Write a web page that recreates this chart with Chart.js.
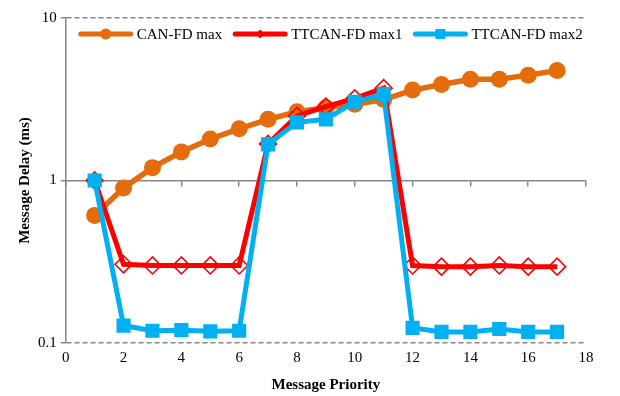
<!DOCTYPE html>
<html>
<head>
<meta charset="utf-8">
<script src="https://cdn.jsdelivr.net/npm/chart.js@4.4.1/dist/chart.umd.min.js"></script>
<style>
  html, body { margin: 0; padding: 0; background: #fff; }
</style>
</head>
<body>
<canvas id="myChart" width="620" height="396"></canvas>
<script>
var priorities = [1, 2, 3, 4, 5, 6, 7, 8, 9, 10, 11, 12, 13, 14, 15, 16, 17];
var canfdMax  = [0.61, 0.9, 1.2, 1.5, 1.8, 2.08, 2.38, 2.65, 2.8, 2.95, 3.15, 3.6, 3.9, 4.2, 4.2, 4.45, 4.75];
var ttcanMax1 = [1.0, 0.305, 0.3, 0.3, 0.3, 0.3, 1.68, 2.5, 2.85, 3.2, 3.7, 0.3, 0.295, 0.295, 0.3, 0.295, 0.295];
var ttcanMax2 = [1.0, 0.128, 0.119, 0.12, 0.118, 0.119, 1.67, 2.28, 2.38, 3.05, 3.4, 0.124, 0.117, 0.117, 0.122, 0.117, 0.117];
var xTicks = [0, 2, 4, 6, 8, 10, 12, 14, 16, 18];
var yTicks = [0.1, 1, 10];

var axisGray = '#868686';
var serif = '"Liberation Serif", "Times New Roman", serif';

function pts(arr) {
    return arr.map(function (v, i) { return { x: priorities[i], y: v }; });
}

// legend drawn inside the plot: line sample + marker + text
var insideLegend = {
    id: 'insideLegend',
    afterDraw: function (chart) {
        var ctx = chart.ctx;
        var y = chart.chartArea.top + 16;
        var x = chart.chartArea.left + 15;
        ctx.save();
        ctx.font = '15px ' + serif;
        ctx.textBaseline = 'middle';
        ctx.textAlign = 'left';
        chart.data.datasets.forEach(function (ds) {
            ctx.strokeStyle = ds.borderColor;
            ctx.lineWidth = 5;
            ctx.lineCap = 'round';
            ctx.beginPath();
            ctx.moveTo(x, y);
            ctx.lineTo(x + 50, y);
            ctx.stroke();
            var cx = x + 25;
            ctx.fillStyle = ds.borderColor;
            ctx.beginPath();
            if (ds.pointStyle === 'circle') {
                ctx.arc(cx, y, 5.5, 0, Math.PI * 2);
            } else if (ds.pointStyle === 'rectRot') {
                ctx.moveTo(cx, y - 4.5); ctx.lineTo(cx + 4.5, y);
                ctx.lineTo(cx, y + 4.5); ctx.lineTo(cx - 4.5, y);
                ctx.closePath();
            } else {
                ctx.rect(cx - 5, y - 5, 10, 10);
            }
            ctx.fill();
            ctx.fillStyle = '#000';
            ctx.fillText(ds.label, x + 56, y + 1);
            x += 56 + ctx.measureText(ds.label).width + 13;
        });
        ctx.restore();
    }
};

var ctx = document.getElementById('myChart').getContext('2d');
var chart = new Chart(ctx, {
    type: 'line',
    data: {
        datasets: [{
            label: 'CAN-FD max',
            data: pts(canfdMax),
            borderColor: '#E46C0A',
            backgroundColor: '#E46C0A',
            borderWidth: 5.5,
            pointStyle: 'circle',
            pointRadius: 8.5,
            pointBorderWidth: 0,
            order: 3
        }, {
            label: 'TTCAN-FD max1',
            data: pts(ttcanMax1),
            borderColor: '#FF0000',
            backgroundColor: 'rgba(255,255,255,0)',
            pointBackgroundColor: 'rgba(255,255,255,0)',
            borderWidth: 5,
            pointStyle: 'rectRot',
            pointRadius: 8.5,
            pointBorderWidth: 1.6,
            order: 2
        }, {
            label: 'TTCAN-FD max2',
            data: pts(ttcanMax2),
            borderColor: '#00B0F0',
            backgroundColor: '#00B0F0',
            borderWidth: 5,
            pointStyle: 'rect',
            pointRadius: 10,
            pointBorderWidth: 0,
            order: 1
        }]
    },
    options: {
        responsive: false,
        animation: false,
        layout: { padding: { left: 16, right: 34, top: 18, bottom: 2 } },
        plugins: {
            legend: { display: false },
            tooltip: { enabled: false }
        },
        elements: { line: { tension: 0 } },
        scales: {
            x: {
                type: 'linear',
                min: 0,
                max: 18,
                afterBuildTicks: function (scale) {
                    scale.ticks = xTicks.map(function (v) { return { value: v }; });
                },
                grid: { display: false },
                border: { display: false },
                ticks: {
                    color: '#000',
                    font: { family: serif, size: 15 },
                    padding: -2,
                    maxRotation: 0
                },
                title: {
                    display: true,
                    text: 'Message Priority',
                    color: '#000',
                    font: { family: serif, size: 15, weight: 'bold' },
                    padding: { top: 11, bottom: 0 }
                }
            },
            x2: {
                type: 'linear',
                position: { y: 1 },
                min: 0,
                max: 18,
                afterBuildTicks: function (scale) {
                    scale.ticks = xTicks.map(function (v) { return { value: v }; });
                },
                ticks: { display: false },
                grid: {
                    drawOnChartArea: false,
                    drawTicks: true,
                    tickLength: 5,
                    color: axisGray,
                    tickColor: axisGray,
                    lineWidth: 1.5
                },
                border: { color: axisGray, width: 1.5 }
            },
            y: {
                type: 'logarithmic',
                min: 0.1,
                max: 10,
                afterBuildTicks: function (scale) {
                    scale.ticks = yTicks.map(function (v) { return { value: v }; });
                },
                ticks: {
                    color: '#000',
                    font: { family: serif, size: 15 },
                    padding: 4,
                    callback: function (v) { return String(v); }
                },
                grid: {
                    color: function (c) { return c.tick && c.tick.value === 1 ? 'rgba(0,0,0,0)' : axisGray; },
                    tickColor: axisGray,
                    tickLength: 5,
                    lineWidth: 1.5
                },
                border: {
                    color: axisGray,
                    width: 1.5,
                    dash: function (c) { return c.tick ? [5, 3] : []; }
                },
                title: {
                    display: true,
                    text: 'Message Delay (ms)',
                    color: '#000',
                    font: { family: serif, size: 15, weight: 'bold' },
                    padding: { top: 0, bottom: 0 }
                }
            }
        }
    },
    plugins: [insideLegend]
});
</script>
</body>
</html>
